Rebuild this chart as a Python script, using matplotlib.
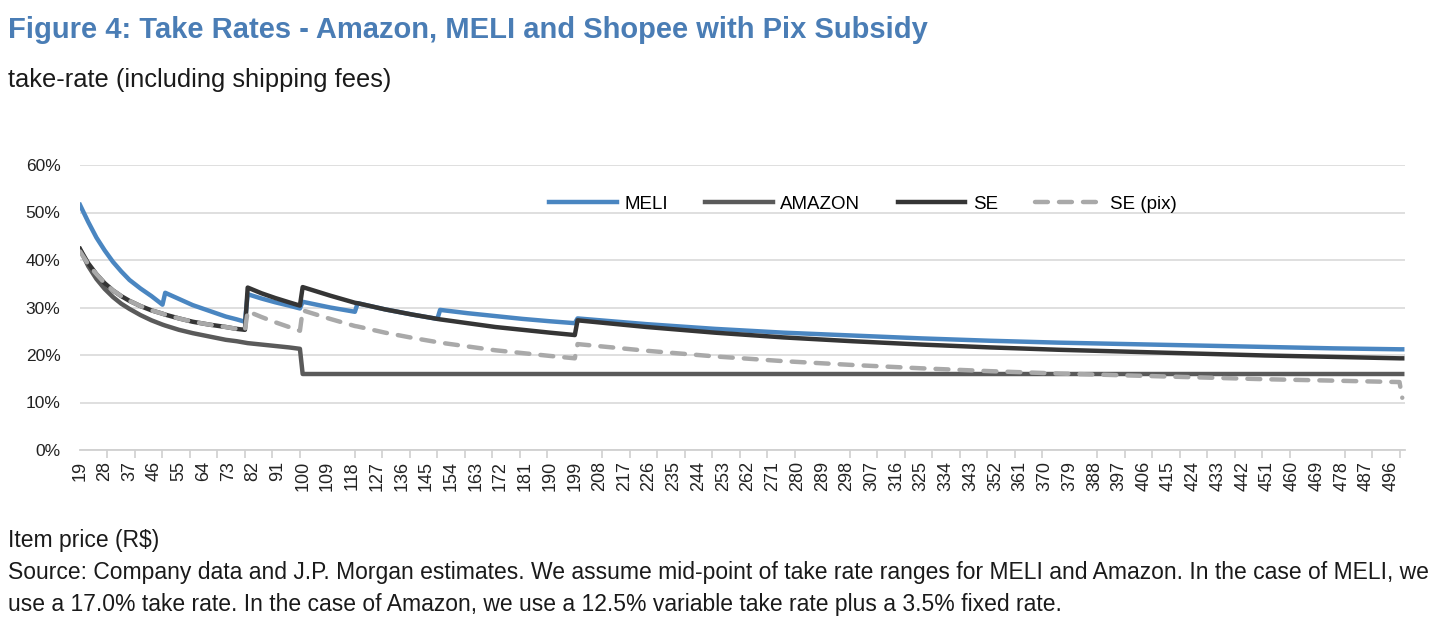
import numpy as np
import matplotlib as mpl
mpl.use('Agg')
import matplotlib.pyplot as plt
from matplotlib import font_manager

# item prices (R$) at which values were read, jumps kept as neighbouring points
price = [19, 22, 25, 28, 31, 34, 37, 41, 45, 49, 50, 55, 60, 66, 72, 76, 79,
         80, 85, 90, 95, 99, 100, 110, 119, 120, 130, 140, 149, 150, 160, 170,
         180, 190, 199, 200, 225, 250, 275, 300, 325, 350, 375, 400, 425, 450,
         475, 499, 500]

# take-rate in %
meli = [51.6, 48.0, 44.7, 42.0, 39.6, 37.6, 35.8, 34.0, 32.4, 30.6, 33.1, 31.8,
        30.5, 29.3, 28.1, 27.5, 27.0, 32.8, 31.9, 31.1, 30.4, 29.8, 31.2, 30.0,
        29.1, 30.9, 29.6, 28.5, 27.6, 29.5, 28.8, 28.2, 27.6, 27.1, 26.7, 27.7,
        26.5, 25.5, 24.7, 24.1, 23.5, 23.0, 22.6, 22.3, 22.0, 21.7, 21.4, 21.2,
        21.2]
amazon = [42.3, 38.7, 36.0, 33.9, 32.2, 30.8, 29.7, 28.4, 27.3, 26.4, 26.2, 25.3,
          24.6, 23.9, 23.2, 22.9, 22.6, 22.5, 22.2, 21.9, 21.6, 21.3, 16.0, 16.0,
          16.0, 16.0, 16.0, 16.0, 16.0, 16.0, 16.0, 16.0, 16.0, 16.0, 16.0, 16.0,
          16.0, 16.0, 16.0, 16.0, 16.0, 16.0, 16.0, 16.0, 16.0, 16.0, 16.0, 16.0,
          16.0]
se = [42.3, 39.3, 37.0, 35.1, 33.6, 32.4, 31.4, 30.3, 29.4, 28.7, 28.5, 27.7,
      27.0, 26.4, 25.9, 25.5, 25.3, 34.2, 33.0, 32.0, 31.1, 30.4, 34.3, 32.5,
      31.0, 30.9, 29.6, 28.5, 27.6, 27.5, 26.7, 25.9, 25.3, 24.7, 24.2, 27.3,
      25.9, 24.7, 23.7, 22.9, 22.2, 21.6, 21.1, 20.7, 20.3, 19.9, 19.6, 19.3,
      19.3]
se_pix = [41.8, 39.1, 37.0, 35.1, 33.6, 32.4, 31.4, 30.3, 29.4, 28.7, 28.5, 27.7,
          27.0, 26.4, 25.9, 25.5, 25.3, 29.2, 28.0, 26.9, 25.9, 25.1, 29.4, 27.6,
          26.1, 26.0, 24.7, 23.6, 22.7, 22.6, 21.8, 21.0, 20.4, 19.8, 19.3, 22.3,
          20.9, 19.7, 18.7, 17.9, 17.2, 16.6, 16.1, 15.7, 15.3, 14.9, 14.6, 14.3,
          11.0]

x_labels = list(range(19, 497, 9))
y_ticks = [0, 10, 20, 30, 40, 50, 60]

names = {f.name for f in font_manager.fontManager.ttflist}
fam = 'Liberation Sans Narrow' if 'Liberation Sans Narrow' in names else 'Liberation Sans'
plt.rcParams['font.family'] = fam

W, H = 1440, 620
fig = plt.figure(figsize=(W / 100, H / 100), dpi=100)
ax = fig.add_axes([80 / W, 1 - 450 / H, 1325 / W, 285 / H])

ax.plot(price, meli, color='#4a86c1', lw=3.2, label='MELI', zorder=3)
ax.plot(price, amazon, color='#5a5a5a', lw=3.2, label='AMAZON', zorder=4)
ax.plot(price, se, color='#353535', lw=3.2, label='SE', zorder=5)
ax.plot(price, se_pix, color='#a9a9a9', lw=3.2, ls=(0, (2.9, 2.5)),
        dash_capstyle='round', label='SE (pix)', zorder=6)

ax.set_xlim(19, 501)
ax.set_ylim(0, 60)
ax.set_yticks(y_ticks)
ax.set_yticklabels([f'{v}%' for v in y_ticks], fontsize=12.5, color='#222222')
ax.set_xticks(x_labels)
ax.set_xticklabels([str(v) for v in x_labels], rotation=90, fontsize=13,
                   color='#222222')
ax.set_xticks(range(19, 501, 10), minor=True)
ax.tick_params(axis='y', length=0, pad=14)
ax.tick_params(axis='x', which='major', length=0, pad=8)
ax.tick_params(axis='x', which='minor', length=6, color='#d0d0d0', width=1.2)
ax.grid(axis='y', color='#dcdcdc', lw=1.3)
ax.set_axisbelow(True)
for s in ['top', 'right', 'left']:
    ax.spines[s].set_visible(False)
ax.spines['bottom'].set_color('#d0d0d0')
ax.spines['bottom'].set_linewidth(1.3)

ax.legend(loc='center', bbox_to_anchor=(0.591, 0.863), ncol=4, frameon=False,
          fontsize=13.5, handlelength=3.6, handletextpad=0.4, columnspacing=2.0)

fig.text(8 / W, 1 - 30 / H, 'Figure 4: Take Rates - Amazon, MELI and Shopee with Pix Subsidy',
         fontsize=21, fontweight='bold', color='#4a7db5', va='center')
fig.text(8 / W, 1 - 80 / H, 'take-rate (including shipping fees)',
         fontsize=18.4, color='#1a1a1a', va='center')
fig.text(8 / W, 1 - 540 / H, 'Item price (R$)', fontsize=16.5, color='#1a1a1a', va='center')
fig.text(8 / W, 1 - 573 / H,
         'Source: Company data and J.P. Morgan estimates. We assume mid-point of take rate ranges for MELI and Amazon. In the case of MELI, we',
         fontsize=16.5, color='#1a1a1a', va='center')
fig.text(8 / W, 1 - 604 / H,
         'use a 17.0% take rate. In the case of Amazon, we use a 12.5% variable take rate plus a 3.5% fixed rate.',
         fontsize=16.5, color='#1a1a1a', va='center')

fig.savefig('out.png', dpi=100, facecolor='white')
